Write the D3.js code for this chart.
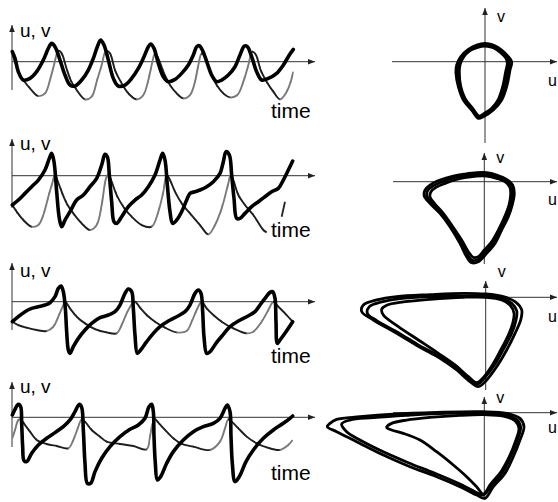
<!DOCTYPE html>
<html>
<head>
<meta charset="utf-8">
<script src="https://cdn.jsdelivr.net/npm/d3@7"></script>
<style>
  html, body { margin: 0; padding: 0; background: #fff; }
  svg { display: block; font-family: "Liberation Sans", Arial, sans-serif; }
</style>
</head>
<body>
<svg id="chart" width="558" height="502"></svg>
<script>
// ---- Time traces: [time, value] (arbitrary units) ----
const u1 = [[1,30],[9,10],[19,-30],[34,-55],[54,-50],[74,-30],[94,5],[109,40],[119,55],[129,45],[144,5],[159,-40],[174,-70],[189,-73],[209,-55],[229,-25],[244,10],[256,45],[266,65],[276,50],[289,5],[304,-50],[319,-73],[339,-70],[359,-50],[379,-20],[396,15],[409,45],[416,53],[426,40],[439,-5],[454,-45],[469,-60],[489,-53],[509,-35],[529,-10],[544,20],[554,45],[562,48],[572,33],[586,-5],[599,-40],[614,-60],[629,-55],[649,-40],[669,-15],[684,20],[697,47],[706,45],[719,15],[734,-30],[749,-55],[769,-50],[794,-35],[814,-10],[832,20],[844,37]];
const v1 = [[1,25],[9,0],[19,-30],[34,-55],[54,-80],[79,-103],[99,-95],[114,-55],[126,-10],[139,33],[149,25],[162,-15],[176,-55],[194,-85],[219,-113],[239,-105],[254,-60],[269,-10],[282,33],[294,25],[309,-25],[329,-65],[349,-95],[374,-113],[394,-100],[409,-55],[419,-10],[429,25],[439,10],[454,-30],[474,-70],[494,-95],[514,-110],[534,-100],[549,-60],[559,-10],[569,25],[579,15],[594,-30],[614,-70],[634,-95],[654,-107],[676,-100],[694,-60],[709,-10],[721,30],[732,20],[746,-25],[764,-60],[784,-90],[804,-113],[824,-90],[839,-50],[844,-30]];

const u2 = [[1,-88],[19,-73],[39,-53],[59,-33],[79,-13],[99,17],[112,52],[119,67],[126,42],[134,-48],[142,-128],[149,-153],[159,-133],[174,-108],[194,-73],[214,-58],[234,-33],[254,-8],[269,32],[279,64],[286,57],[292,2],[299,-78],[306,-138],[314,-143],[329,-123],[349,-93],[369,-73],[389,-58],[409,-33],[429,2],[444,47],[452,67],[459,47],[466,-28],[474,-108],[482,-143],[494,-133],[509,-108],[524,-73],[534,-53],[549,-48],[564,-43],[584,-33],[604,-18],[624,7],[634,42],[642,72],[652,62],[659,2],[666,-68],[674,-128],[684,-128],[699,-113],[719,-93],[739,-78],[759,-63],[779,-48],[799,-38],[814,-13],[829,17],[842,44]];
const v2 = [[1,-88],[14,-108],[34,-133],[59,-153],[79,-148],[94,-118],[109,-63],[122,-18],[129,4],[136,-13],[149,-48],[164,-83],[184,-113],[209,-143],[234,-163],[254,-148],[269,-88],[282,-8],[289,4],[299,-18],[314,-58],[334,-93],[359,-123],[389,-148],[419,-153],[439,-108],[454,-48],[464,2],[474,-13],[489,-48],[509,-83],[534,-113],[564,-148],[589,-176],[609,-148],[629,-98],[649,-23],[656,2],[664,-13],[679,-58],[699,-88],[724,-118],[754,-163],[764,-170]];
const stroke2 = [[819,-78],[809,-123]];

const u3 = [[1,-60],[19,-45],[39,-30],[59,-20],[79,-15],[99,-10],[114,-3],[129,15],[139,40],[147,47],[154,30],[160,-20],[164,-90],[169,-145],[174,-155],[184,-135],[199,-110],[219,-85],[239,-65],[264,-48],[289,-40],[309,-30],[324,-10],[339,25],[349,38],[359,30],[364,-20],[369,-100],[376,-155],[386,-145],[404,-120],[424,-95],[444,-75],[469,-58],[494,-45],[519,-30],[534,-10],[549,25],[559,35],[567,25],[572,-30],[576,-105],[584,-155],[594,-150],[614,-122],[634,-98],[654,-75],[679,-58],[704,-45],[729,-30],[744,-10],[759,10],[774,28],[782,30],[789,10],[792,-60],[796,-125],[804,-115],[822,-90],[842,-60]];
const v3 = [[1,-60],[19,-70],[44,-78],[74,-85],[104,-88],[124,-75],[139,-45],[154,-10],[159,0],[174,-20],[194,-45],[219,-65],[249,-82],[284,-92],[314,-95],[329,-70],[344,-35],[359,-8],[369,0],[384,-18],[404,-40],[429,-60],[459,-78],[494,-92],[524,-88],[539,-60],[554,-25],[569,0],[584,-20],[604,-40],[629,-60],[664,-80],[704,-95],[724,-90],[749,-60],[769,-25],[784,0],[799,-15],[819,-35],[842,-60]];

const u4 = [[1,7],[9,24],[19,39],[26,32],[29,-18],[32,-88],[36,-130],[44,-133],[59,-108],[79,-83],[104,-63],[129,-46],[154,-28],[174,-8],[189,17],[202,39],[209,30],[214,-38],[219,-138],[226,-198],[236,-198],[249,-163],[269,-123],[294,-88],[324,-58],[354,-36],[379,-23],[399,-3],[411,32],[419,39],[424,17],[426,-58],[430,-138],[436,-188],[446,-178],[464,-138],[484,-103],[514,-68],[544,-43],[574,-28],[604,-18],[624,-3],[639,27],[646,37],[654,17],[657,-58],[661,-138],[669,-193],[682,-178],[702,-133],[724,-98],[754,-63],[784,-38],[814,-18],[834,-3],[842,4]];
const v4 = [[1,-63],[9,-38],[19,-8],[26,-6],[39,-23],[54,-43],[74,-68],[104,-80],[134,-86],[169,-93],[184,-68],[199,-28],[209,-6],[219,-13],[239,-38],[264,-58],[284,-73],[324,-80],[364,-86],[404,-96],[414,-58],[422,-18],[429,-6],[439,-16],[459,-38],[484,-63],[509,-80],[544,-88],[594,-98],[624,-73],[639,-33],[649,-6],[659,-13],[679,-33],[704,-58],[734,-78],[764,-90],[804,-98],[829,-83],[842,-68]];

// ---- Phase-plane loops: [u, v] (arbitrary units) ----
const loop1a = [[0,55],[25,50],[50,35],[70,15],[80,0],[75,-25],[65,-75],[50,-115],[25,-145],[-5,-165],[-20,-170],[-40,-145],[-65,-115],[-80,-75],[-87,-35],[-85,-10],[-73,15],[-50,37],[-25,50]];
const loop1b = [[0,47],[25,42],[47,27],[63,10],[67,-5],[62,-30],[53,-75],[40,-113],[20,-140],[-5,-157],[-18,-163],[-37,-140],[-60,-110],[-73,-73],[-77,-35],[-75,-10],[-65,13],[-45,33],[-22,43]];
const loop1c = [[0,51],[25,46],[48,31],[66,12],[73,-3],[69,-28],[59,-75],[45,-114],[22,-143],[-5,-161],[-19,-167],[-38,-143],[-62,-112],[-77,-74],[-82,-35],[-80,-10],[-69,14],[-47,35],[-23,47]];

const loop2a = [[-23,27],[7,27],[37,20],[67,7],[85,-10],[90,-35],[85,-65],[72,-105],[52,-145],[32,-185],[7,-215],[-18,-240],[-38,-243],[-53,-225],[-73,-185],[-103,-135],[-133,-95],[-163,-65],[-180,-43],[-178,-25],[-163,-10],[-133,5],[-93,17],[-58,23]];
const loop2b = [[-23,17],[7,17],[37,10],[62,0],[77,-17],[79,-40],[74,-70],[59,-110],[42,-145],[22,-180],[0,-205],[-18,-225],[-33,-227],[-48,-210],[-68,-175],[-98,-130],[-123,-95],[-148,-67],[-163,-45],[-160,-30],[-145,-17],[-118,-5],[-83,7],[-53,13]];
const loop2c = [[-23,22],[7,22],[37,15],[65,4],[81,-13],[85,-37],[80,-67],[66,-107],[47,-145],[27,-183],[3,-210],[-18,-233],[-36,-236],[-51,-218],[-71,-180],[-101,-133],[-128,-95],[-156,-66],[-172,-44],[-170,-27],[-154,-13],[-126,0],[-88,12],[-56,18]];

const loop3a = [[-67,12],[0,10],[53,2],[88,-13],[108,-38],[105,-68],[88,-108],[63,-158],[33,-208],[3,-248],[-22,-268],[-47,-253],[-87,-218],[-137,-183],[-197,-150],[-267,-108],[-337,-68],[-372,-43],[-367,-23],[-327,-8],[-267,2],[-167,8]];
const loop3b = [[-67,4],[0,4],[48,-3],[78,-18],[93,-40],[91,-68],[78,-108],[53,-156],[26,-203],[-2,-240],[-24,-260],[-49,-246],[-87,-213],[-137,-178],[-197,-146],[-262,-106],[-327,-70],[-355,-48],[-349,-28],[-312,-14],[-257,-4],[-167,2]];
const loop3c = [[-67,0],[0,0],[48,-8],[73,-23],[85,-48],[81,-78],[68,-113],[45,-158],[20,-203],[-5,-238],[-27,-256],[-52,-238],[-92,-203],[-142,-168],[-202,-128],[-262,-88],[-307,-53],[-312,-36],[-297,-24],[-247,-14],[-167,-6]];

const loop4a = [[-463,-32],[-443,-20],[-373,-12],[-273,-4],[-143,1],[-3,3],[67,-2],[107,-17],[119,-42],[107,-82],[87,-132],[62,-182],[27,-222],[2,-257],[-23,-247],[-73,-222],[-143,-192],[-223,-162],[-303,-127],[-383,-87],[-443,-57],[-471,-42]];
const loop4b = [[-428,-34],[-403,-22],[-333,-15],[-233,-8],[-113,-2],[-3,-2],[62,-7],[99,-22],[109,-44],[99,-82],[79,-132],[54,-180],[22,-217],[-3,-247],[-28,-237],[-78,-212],[-148,-182],[-228,-150],[-308,-115],[-373,-82],[-413,-57]];
const loop4c = [[-293,-44],[-278,-32],[-233,-22],[-163,-14],[-73,-8],[0,-6],[57,-10],[92,-24],[104,-47],[95,-82],[75,-132],[50,-177],[19,-214],[-3,-244],[-23,-222],[-53,-192],[-93,-157],[-143,-117],[-193,-82],[-243,-62],[-278,-52]];

// ---- Axis labels ----
const traceYLabel = "u, v";
const traceXLabel = "time";
const phaseYLabel = "v";
const phaseXLabel = "u";

// ---------------------------------------------------------------
const svg = d3.select("#chart");
svg.append("rect").attr("width", 558).attr("height", 502).attr("fill", "#fff");

const defs = svg.append("defs");
defs.append("marker")
  .attr("id", "arrow")
  .attr("viewBox", "0 0 10 10")
  .attr("refX", 10).attr("refY", 5)
  .attr("markerWidth", 7).attr("markerHeight", 7)
  .attr("markerUnits", "userSpaceOnUse")
  .attr("orient", "auto")
  .append("path").attr("d", "M0,1 L10,5 L0,9 Z").attr("fill", "#222");

const xTime = d3.scaleLinear().domain([0, 900]).range([12, 312]);

const traceRows = [
  { u: u1, v: v1, axisY: 61.7, top: 25, bottom: 90, yLab: 36.7, tLab: 118 },
  { u: u2, v: v2, axisY: 175.7, top: 139, bottom: 208, yLab: 150, tLab: 237, extra: stroke2 },
  { u: u3, v: v3, axisY: 301.7, top: 263, bottom: 330, yLab: 276.7, tLab: 363 },
  { u: u4, v: v4, axisY: 417.3, top: 382, bottom: 447, yLab: 393.3, tLab: 480 }
];

traceRows.forEach((row, r) => {
  const y = d3.scaleLinear().domain([-150, 150]).range([row.axisY + 50, row.axisY - 50]);
  const g = svg.append("g");
  const x0 = xTime(0);

  // axes
  g.append("line").attr("x1", x0).attr("x2", x0)
    .attr("y1", row.bottom).attr("y2", row.top)
    .attr("stroke", "#333").attr("stroke-width", 1).attr("marker-end", "url(#arrow)");
  g.append("line").attr("x1", x0).attr("x2", 315)
    .attr("y1", row.axisY).attr("y2", row.axisY)
    .attr("stroke", "#333").attr("stroke-width", 1).attr("marker-end", "url(#arrow)");

  const line = d3.line().x(d => xTime(d[0])).y(d => y(d[1])).curve(d3.curveCatmullRom.alpha(0.5));

  // v: thin trace, falling stretches dark, rising stretches grey
  const vs = row.v;
  for (let i = 0; i < vs.length - 1; i++) {
    const seg = vs.slice(Math.max(0, i - 1), Math.min(vs.length, i + 3));
    const falling = vs[i + 1][1] < vs[i][1];
    const clipId = `clip-${r}-${i}`;
    defs.append("clipPath").attr("id", clipId)
      .append("rect")
      .attr("x", xTime(vs[i][0]) - 0.4)
      .attr("width", xTime(vs[i + 1][0]) - xTime(vs[i][0]) + 0.8)
      .attr("y", 0).attr("height", 502);
    g.append("path").attr("d", line(seg))
      .attr("clip-path", `url(#${clipId})`)
      .attr("fill", "none")
      .attr("stroke", falling ? "#1e1e1e" : "#7a7a7a")
      .attr("stroke-width", 1.9)
      .attr("stroke-linejoin", "round");
  }

  // u: thick black trace
  g.append("path").attr("d", line(row.u))
    .attr("fill", "none").attr("stroke", "#000")
    .attr("stroke-width", 3.6).attr("stroke-linejoin", "round").attr("stroke-linecap", "round");

  if (row.extra) {
    g.append("path").attr("d", d3.line().x(d => xTime(d[0])).y(d => y(d[1]))(row.extra))
      .attr("fill", "none").attr("stroke", "#222").attr("stroke-width", 1.8);
  }

  g.append("text").attr("x", 20).attr("y", row.yLab)
    .attr("font-size", 19).attr("fill", "#000").text(traceYLabel);
  g.append("text").attr("x", 271).attr("y", row.tLab)
    .attr("font-size", 21).attr("fill", "#000").text(traceXLabel);
});

// ---- Phase-plane panels ----
const phaseRows = [
  { loops: [loop1a, loop1b, loop1c], ox: 485, oy: 61.7, top: 8, bottom: 143, left: 392, vLab: 21.7, uLab: 86 },
  { loops: [loop2a, loop2b, loop2c], ox: 484.3, oy: 181.7, top: 153, bottom: 264, left: 393, vLab: 163, uLab: 205 },
  { loops: [loop3a, loop3b, loop3c], ox: 485.7, oy: 297.3, top: 281, bottom: 390, left: 395, vLab: 277, uLab: 322 },
  { loops: [loop4a, loop4b, loop4c], ox: 484.3, oy: 412.7, top: 397, bottom: 500, left: 393, vLab: 403, uLab: 433 }
];

phaseRows.forEach(p => {
  const px = d3.scaleLinear().domain([-300, 300]).range([p.ox - 100, p.ox + 100]);
  const py = d3.scaleLinear().domain([-300, 300]).range([p.oy + 100, p.oy - 100]);
  const g = svg.append("g");

  g.append("line").attr("x1", px(0)).attr("x2", px(0))
    .attr("y1", p.bottom).attr("y2", p.top)
    .attr("stroke", "#333").attr("stroke-width", 1).attr("marker-end", "url(#arrow)");
  g.append("line").attr("x1", p.left).attr("x2", 557)
    .attr("y1", py(0)).attr("y2", py(0))
    .attr("stroke", "#333").attr("stroke-width", 1).attr("marker-end", "url(#arrow)");

  const loopLine = d3.line().x(d => px(d[0])).y(d => py(d[1]))
    .curve(d3.curveCatmullRomClosed.alpha(0.5));
  p.loops.forEach(lp => {
    g.append("path").attr("d", loopLine(lp))
      .attr("fill", "none").attr("stroke", "#000")
      .attr("stroke-width", 2.8).attr("stroke-linejoin", "round");
  });

  g.append("text").attr("x", px(0) + 12).attr("y", p.vLab)
    .attr("font-size", 16).attr("fill", "#000").text(phaseYLabel);
  g.append("text").attr("x", 548).attr("y", p.uLab)
    .attr("font-size", 16).attr("fill", "#000").text(phaseXLabel);
});
</script>
</body>
</html>
